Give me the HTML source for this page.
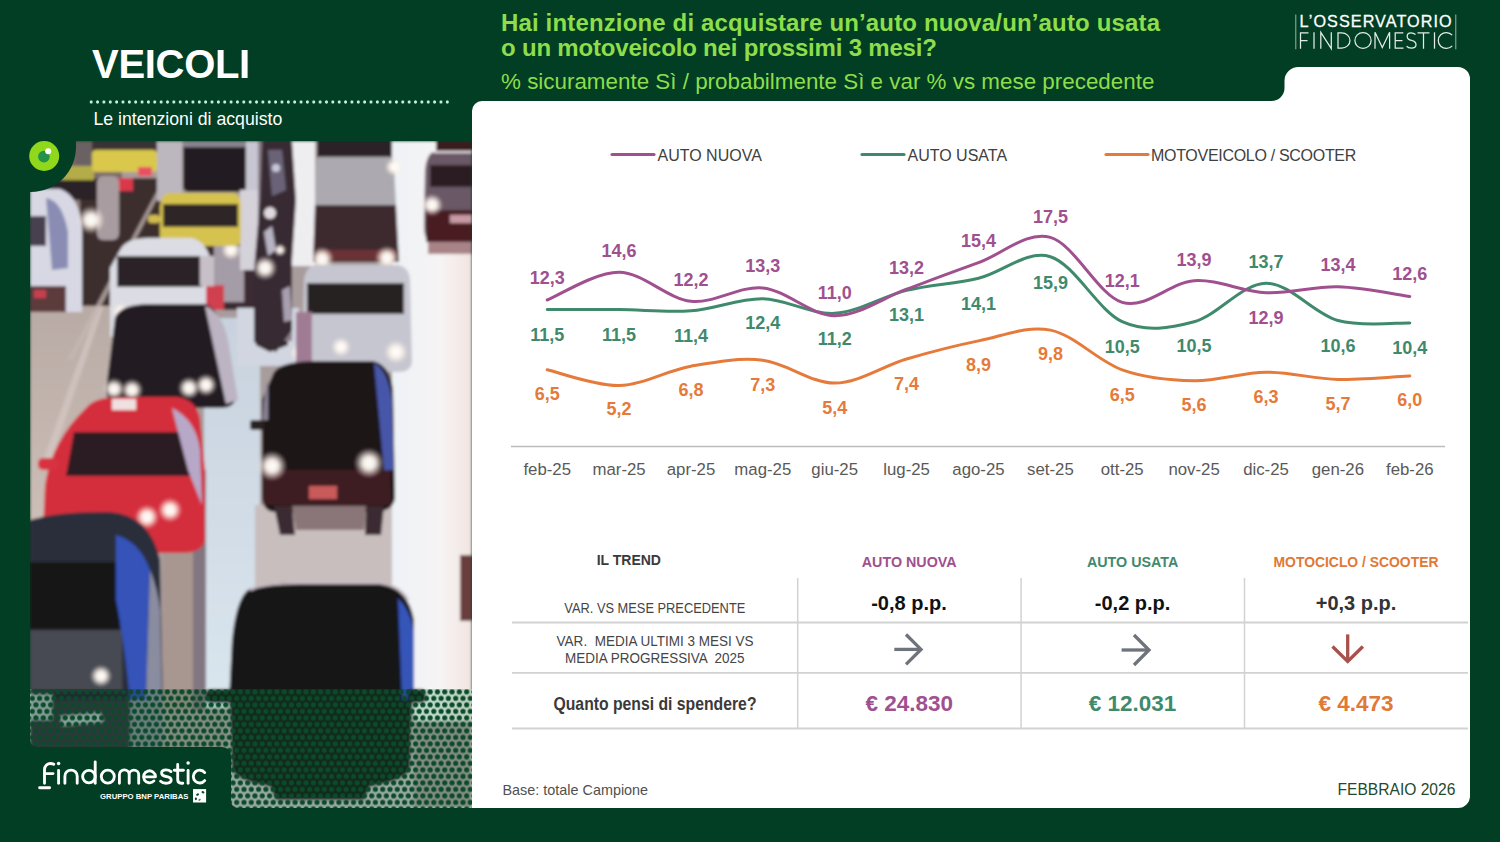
<!DOCTYPE html>
<html><head><meta charset="utf-8">
<style>
html,body{margin:0;padding:0}
body{width:1500px;height:842px;overflow:hidden;background:#013e23;position:relative;font-family:"Liberation Sans",sans-serif}
.abs{position:absolute}
.t{position:absolute;white-space:pre;line-height:1}
</style></head><body>
<!-- white panel -->
<svg class="abs" width="1500" height="842" viewBox="0 0 1500 842" style="left:0;top:0">
 <path d="M472 111 A10 10 0 0 1 482 101 L1271.5 101 A13 13 0 0 0 1284.5 88 L1284.5 81 A14 14 0 0 1 1298.5 67 L1458 67 A12 12 0 0 1 1470 79 L1470 796 A12 12 0 0 1 1458 808 L472 808 Z" fill="#ffffff"/>
</svg>
<svg class="abs" width="1500" height="842" viewBox="0 0 1500 842" style="left:0;top:0">
 <defs>
  <clipPath id="pc"><path d="M76 141 L472 141 L472 808 L239 808 Q231 808 231 800 L231 757 Q231 747 221 747 L38 747 Q30 747 30 739 L30 192 L31 192 A45 45 0 0 0 76 147 Z"/></clipPath>
  <filter id="bl" x="0" y="0" width="1500" height="842" filterUnits="userSpaceOnUse"><feGaussianBlur stdDeviation="1.8"/></filter>
  <radialGradient id="hl"><stop offset="0" stop-color="#ffffff"/><stop offset="0.4" stop-color="#fff8f0" stop-opacity="0.95"/><stop offset="1" stop-color="#ffeee4" stop-opacity="0"/></radialGradient>
  <linearGradient id="roadR" x1="0" y1="0" x2="1" y2="0"><stop offset="0" stop-color="#eef2f6"/><stop offset="0.6" stop-color="#f6f4f4"/><stop offset="1" stop-color="#f2e4e0"/></linearGradient>
  <linearGradient id="roadL" x1="0" y1="0" x2="0" y2="1"><stop offset="0" stop-color="#6a5a58"/><stop offset="0.35" stop-color="#b6a8a2"/><stop offset="1" stop-color="#d0c2bb"/></linearGradient>
  <linearGradient id="roadM" x1="0" y1="0" x2="0" y2="1"><stop offset="0" stop-color="#c8d2de"/><stop offset="1" stop-color="#dae6ee"/></linearGradient>
  <pattern id="dots" x="3.1" y="-0.45" width="7.3" height="13" patternUnits="userSpaceOnUse">
   <circle cx="3.65" cy="3.25" r="2.55" fill="#0b4a2a"/>
   <circle cx="0" cy="9.75" r="2.55" fill="#0b4a2a"/>
   <circle cx="7.3" cy="9.75" r="2.55" fill="#0b4a2a"/>
  </pattern>
 </defs>
 <g clip-path="url(#pc)">
  <g filter="url(#bl)">
   <!-- base -->
   <rect x="30" y="141" width="442" height="667" fill="#a89c9c"/>
   <!-- left lane road -->
   <rect x="30" y="141" width="92" height="420" fill="url(#roadL)"/>
   <path d="M40 470 L100 300 L106 300 L48 470 Z" fill="#d8ccc8" opacity="0.6"/>
   <!-- dark road top-left/center -->
   <rect x="80" y="178" width="86" height="128" fill="#3c2e2e"/>
   <path d="M157 191 L161 191 L73 360 L67 360 Z" fill="#c4b8b4" opacity="0.75"/>
   <rect x="196" y="244" width="58" height="66" fill="#3a2c30"/>
   <rect x="214" y="246" width="30" height="56" fill="#a49ca6"/>
   <!-- mid lane light-blue strip -->
   <rect x="204" y="318" width="56" height="390" fill="url(#roadM)"/>
   <rect x="237" y="308" width="62" height="58" fill="#d2d6e0"/>
   <path d="M254 300 L286 300 L288 345 L270 352 L256 345 Z" fill="#2e2428"/>
   <rect x="191" y="470" width="15" height="240" fill="#827680"/>
   <!-- lower middle road -->
   <rect x="163" y="545" width="30" height="165" fill="#a89690"/>
   <rect x="255" y="505" width="160" height="90" fill="#c8bebe"/>
   <!-- right bright road -->
   <rect x="392" y="141" width="80" height="580" fill="url(#roadR)"/>
   <rect x="287" y="141" width="28" height="125" fill="#eeedf0"/>
   <!-- top-left: car behind left white car -->
   <rect x="76" y="141" width="16" height="28" fill="#6a6262"/>
   <rect x="62" y="166" width="32" height="15" fill="#b4ac4a"/>
   <rect x="34" y="180" width="66" height="20" fill="#2a2428"/>
   <!-- top yellow taxi -->
   <rect x="92" y="141" width="65" height="11" fill="#3a3234"/>
   <rect x="92" y="150" width="65" height="22" rx="4" fill="#d9c84c"/>
   <rect x="113" y="178" width="20" height="13" fill="#d83848"/>
   <rect x="138" y="167" width="14" height="9" fill="#e85060"/>
   <!-- silver car right of taxi -->
   <rect x="157" y="141" width="25" height="60" fill="#bcb6be"/>
   <!-- rider -->
   <rect x="97" y="176" width="22" height="64" rx="6" fill="#a89ca0"/>
   <!-- dark car top -->
   <path d="M183 141 L246 141 L246 186 Q246 192 238 192 L190 192 Q183 192 183 186 Z" fill="#241e24"/>
   <rect x="183" y="141" width="63" height="6" fill="#8a8490"/>
   <!-- white rider / riders column -->
   <rect x="246" y="141" width="17" height="50" fill="#c8c6d2"/>
   <rect x="240" y="190" width="20" height="80" fill="#d6d2da"/>
   <rect x="258" y="141" width="34" height="200" fill="#8a7e88"/>
   <path d="M262 141 L292 141 L296 200 L292 260 L292 330 L276 352 L254 342 L254 270 L260 200 Z" fill="#372c33"/>
   <path d="M264 232 L272 226 L276 250 L268 256 Z" fill="#b8b4c4"/>
   <path d="M282 290 L290 286 L292 320 L284 322 Z" fill="#a8a0b0"/>
   <path d="M268 150 L282 150 L286 190 L272 196 Z" fill="#6a6478"/>
   <circle cx="270" cy="213" r="6" fill="#e0dade"/>
   <circle cx="276" cy="168" r="4" fill="#c8c8d8"/>
   <circle cx="231" cy="250" r="10" fill="url(#hl)"/>
   <circle cx="265" cy="268" r="12" fill="url(#hl)"/>
   <circle cx="280" cy="250" r="6" fill="url(#hl)"/>
   <!-- left white car -->
   <path d="M30 189 L60 189 Q80 196 82 230 L82 312 L30 312 Z" fill="#d8d8e4"/>
   <rect x="30" y="216" width="16" height="30" fill="#4a4050"/>
   <path d="M46 198 Q62 200 68 232 L68 268 L52 270 Z" fill="#8a8cb4"/>
   <path d="M30 286 L66 286 L66 312 L30 312 Z" fill="#5c3a3e"/>
   <rect x="34" y="290" width="12" height="8" fill="#c84050"/>
   <!-- headlight -->
   <circle cx="91" cy="220" r="14" fill="url(#hl)"/>
   <!-- yellow taxi middle -->
   <path d="M168 193 L234 193 Q241 195 241 206 L241 240 Q241 246 233 246 L166 246 Q160 246 160 238 L160 206 Q161 195 168 193 Z" fill="#d6c250"/>
   <rect x="163" y="204" width="75" height="23" fill="#2e2628"/>
   <rect x="148" y="215" width="12" height="8" rx="3" fill="#d0bc50"/>
   <!-- white car middle -->
   <path d="M120 250 Q126 238 148 238 L192 238 Q206 242 210 258 L212 337 L110 337 L110 268 Z" fill="#dcdce4"/>
   <rect x="117" y="256" width="86" height="31" fill="#2a2228"/>
   <circle cx="121" cy="312" r="9" fill="url(#hl)"/>
   <!-- red rider -->
   <rect x="206" y="285" width="18" height="25" fill="#d04050"/>
   <rect x="200" y="256" width="14" height="30" fill="#c8c0c8"/>
   <!-- van -->
   <rect x="317" y="141" width="75" height="16" fill="#2a2226"/>
   <path d="M320 157 L389 157 Q393 158 394 165 L396 205 L315 205 L316 165 Q317 158 320 157 Z" fill="#acaab0"/>
   <path d="M315 205 L396 205 L399 262 L313 262 Z" fill="#3c2a2e"/>
   <rect x="318" y="250" width="78" height="10" fill="#6a3034"/>
   <circle cx="394" cy="167" r="9" fill="url(#hl)"/>
   <circle cx="322" cy="259" r="12" fill="url(#hl)"/>
   <circle cx="387" cy="258" r="12" fill="url(#hl)"/>
   <!-- right car -->
   <rect x="436" y="141" width="36" height="11" fill="#3a1a1e"/>
   <path d="M434 152 L472 152 L472 242 L428 242 Q424 236 424 226 L425 170 Q427 153 434 152 Z" fill="#6a5866"/>
   <path d="M434 152 L472 152" stroke="#e8e0e4" stroke-width="2"/>
   <rect x="430" y="165" width="42" height="22" fill="#2a1c24"/>
   <rect x="426" y="210" width="46" height="32" fill="#4a1e24"/>
   <rect x="450" y="215" width="22" height="8" fill="#c89aa4"/>
   <circle cx="432" cy="205" r="11" fill="url(#hl)"/>
   <rect x="428" y="242" width="44" height="12" fill="#a88488"/>
   <!-- silver car -->
   <path d="M316 265 L398 265 Q409 267 410 280 L412 362 Q411 372 398 372 L312 372 Q302 370 302 360 L304 280 Q306 266 316 265 Z" fill="#c6c6d0"/>
   <rect x="307" y="283" width="97" height="31" fill="#262024"/>
   <circle cx="300" cy="353" r="10" fill="url(#hl)"/>
   <circle cx="341" cy="347" r="10" fill="url(#hl)"/>
   <circle cx="396" cy="352" r="12" fill="url(#hl)"/>
   <rect x="296" y="312" width="16" height="52" fill="#a07c94"/>
   <!-- dark car (in front of white car) -->
   <path d="M115 318 Q120 304 150 304 L205 304 Q218 308 222 330 L236 395 Q236 408 220 408 L118 408 Q106 404 106 390 Z" fill="#211a21"/>
   <path d="M205 306 Q222 312 228 340 L238 400 L226 404 Z" fill="#bcb4c2"/>
   <circle cx="114" cy="389" r="11" fill="url(#hl)"/>
   <circle cx="132" cy="390" r="11" fill="url(#hl)"/>
   <circle cx="189" cy="388" r="11" fill="url(#hl)"/>
   <circle cx="206" cy="385" r="11" fill="url(#hl)"/>
   <!-- red taxi -->
   <path d="M86 408 Q94 397 120 397 L178 397 Q196 400 200 418 L205 470 L205 540 Q203 553 182 553 L60 553 Q43 553 43 530 L45 485 Q52 440 86 408 Z" fill="#d42e3c"/>
   <path d="M74 432 L186 432 L190 476 L66 476 Z" fill="#2c1c22"/>
   <rect x="112" y="399" width="24" height="11" fill="#f0e0e0"/>
   <rect x="38" y="458" width="20" height="12" rx="5" fill="#d83040"/>
   <path d="M172 408 Q196 420 200 450 L202 505 L188 470 Z" fill="#b8a8c8"/>
   <circle cx="147" cy="517" r="12" fill="url(#hl)"/>
   <circle cx="170" cy="510" r="12" fill="url(#hl)"/>
   <!-- big dark car -->
   <path d="M274 372 Q282 361 318 361 L372 361 Q390 364 393 390 L395 498 Q393 512 373 512 L276 512 Q262 512 262 495 L262 400 Z" fill="#1e1418"/>
   <rect x="250" y="420" width="14" height="10" rx="3" fill="#2a2024"/>
   <path d="M374 363 Q388 370 392 400 L394 470 L384 470 Z" fill="#4656a8"/>
   <path d="M268 380 Q264 390 263 420 L268 420 Z" fill="#8a8498"/>
   <path d="M264 470 L390 470 L392 505 L264 505 Z" fill="#3c1a22"/>
   <path d="M274 506 L292 506 L295 535 L280 535 Z" fill="#3a2c30"/>
   <path d="M366 506 L384 506 L381 535 L365 535 Z" fill="#3a2c30"/>
   <path d="M292 506 L366 506 L364 530 L296 530 Z" fill="#8a7678"/>
   <rect x="309" y="486" width="28" height="13" fill="#c85a5a"/>
   <circle cx="272" cy="466" r="15" fill="url(#hl)"/>
   <circle cx="369" cy="463" r="15" fill="url(#hl)"/>
   <!-- bottom-left dark car -->
   <path d="M30 520 Q60 511 110 512 Q150 515 160 560 L163 710 L30 710 Z" fill="#2a2e3a"/>
   <rect x="30" y="562" width="90" height="68" fill="#121218"/>
   <rect x="30" y="630" width="92" height="60" fill="#464a52"/>
   <path d="M116 535 Q140 542 150 570 L146 700 L130 700 Q124 640 116 600 Z" fill="#3452b8"/>
   <path d="M150 570 Q158 590 160 610 L162 700 L146 700 Z" fill="#8a8ca0"/>
   <circle cx="101" cy="676" r="11" fill="url(#hl)"/>
   <!-- bottom dark car -->
   <path d="M248 590 Q262 582 300 582 L380 582 Q408 588 414 620 L414 720 L228 720 L232 640 Q236 600 248 590 Z" fill="#181318"/>
   <path d="M398 598 Q410 610 414 630 L414 700 L402 700 Z" fill="#3454b8"/>
   <path d="M250 590 Q262 583 300 583 L380 583 Q400 586 408 600" fill="none" stroke="#c8bcc4" stroke-width="2.5"/>
   <!-- person right edge -->
   <rect x="460" y="555" width="12" height="66" fill="#6a3c3c"/>
   <!-- lower halftone underlying continuation -->
   <rect x="228" y="700" width="186" height="110" fill="#c4bcc0"/>
   <path d="M230 700 L412 700 L410 770 Q400 782 370 786 L364 800 L276 800 L270 786 Q240 782 232 770 Z" fill="#151015"/>
   <rect x="206" y="689" width="28" height="14" rx="5" fill="#151015"/>
   <rect x="408" y="689" width="18" height="14" rx="5" fill="#151015"/>
   <rect x="30" y="700" width="133" height="50" fill="#3a3e46"/>
   <rect x="30" y="694" width="22" height="26" fill="#a8acb4"/>
   <path d="M60 716 L100 712 L104 722 L62 726 Z" fill="#b0b4bc"/>
   <rect x="130" y="700" width="33" height="50" fill="#8a8c98"/>

  </g>
  <!-- halftone band -->
  <rect x="30" y="689" width="442" height="120" fill="#c4e4d2" style="mix-blend-mode:multiply"/>
  <rect x="30" y="689" width="442" height="120" fill="#0e2a1c" style="mix-blend-mode:lighten"/>
  <rect x="30" y="689" width="442" height="120" fill="url(#dots)"/>
 </g>
 <!-- logo circle -->
 <circle cx="44.2" cy="156" r="15" fill="#8fd81c"/>
 <circle cx="43.9" cy="156.6" r="5.8" fill="#23924a"/>
 <circle cx="48.2" cy="151.2" r="3" fill="#ffffff"/>
 <!-- findomestic logo -->
 <g fill="none" stroke="#ffffff" stroke-width="2.85" stroke-linecap="round" stroke-linejoin="round">
  <path d="M44.5 783.2 V769.5 A6 6 0 0 1 50.5 763.5 Q52.5 763.5 53.8 764.3"/>
  <path d="M44.5 773.6 H53"/>
  <path d="M39.6 787.7 H49.6"/>
  <path d="M58.6 770.5 V783.2"/>
  <path d="M64.9 783.2 V776.2 A6.15 6.15 0 0 1 77.2 776.2 V783.2"/>
  <circle cx="88.9" cy="776.6" r="6.3"/>
  <path d="M95.2 761.8 V783.2"/>
  <circle cx="107.8" cy="776.6" r="6.5"/>
  <path d="M119.4 783.2 V774.8 A4.9 4.9 0 0 1 129.2 774.8 V783.2 M129.2 774.8 A4.75 4.75 0 0 1 138.7 774.8 V783.2"/>
  <path d="M143.6 776.8 H155.5 A6 6 0 1 0 153.9 780.9"/>
  <path d="M171 771.6 Q169 769.9 166 769.9 Q161.6 769.9 161.6 773 Q161.6 775.8 166 776.5 Q171.2 777.3 171.2 780 Q171.2 783.2 166 783.2 Q162.6 783.2 160.6 781.3"/>
  <path d="M177.7 764.4 V779.5 Q177.7 783.2 181.3 783.2 H182.8"/>
  <path d="M174.3 770.2 H183.4"/>
  <path d="M188.1 770.5 V783.2"/>
  <path d="M204.7 772.6 A6.4 6.4 0 1 0 204.7 780.6"/>
 </g>
 <circle cx="58.6" cy="763.4" r="1.75" fill="#ffffff"/>
 <circle cx="188.1" cy="762.9" r="1.75" fill="#ffffff"/>
 <text x="100" y="799.3" font-family="Liberation Sans" font-weight="bold" font-size="7.75" fill="#ffffff">GRUPPO BNP PARIBAS</text>
 <rect x="193" y="789.1" width="13.1" height="13.4" fill="#ffffff"/>
 <g fill="#0b4a2c"><ellipse cx="203" cy="792.3" rx="1.5" ry="1.1" transform="rotate(20 203 792.3)"/><ellipse cx="197.6" cy="794.6" rx="1.5" ry="1.1" transform="rotate(-25 197.6 794.6)"/><ellipse cx="195.9" cy="798.8" rx="1.1" ry="1.4"/><ellipse cx="199.6" cy="799.8" rx="1.3" ry="0.9" opacity="0.7" transform="rotate(-35 199.6 799.8)"/></g>
</svg>

<!-- header text -->
<div class="t" style="left:501px;top:10.6px;font-size:24px;font-weight:bold;color:#8edd4a;letter-spacing:0.15px">Hai intenzione di acquistare un’auto nuova/un’auto usata</div>
<div class="t" style="left:501px;top:35.6px;font-size:24px;font-weight:bold;color:#8edd4a;letter-spacing:-0.19px">o un motoveicolo nei prossimi 3 mesi?</div>
<div class="t" style="left:501px;top:71.2px;font-size:22.4px;color:#8edd4a">% sicuramente Sì / probabilmente Sì e var % vs mese precedente</div>
<div class="t" style="left:92px;top:43.6px;font-size:40px;font-weight:bold;color:#ffffff;letter-spacing:-0.3px">VEICOLI</div>
<div class="abs" style="left:88.2px;top:99.9px;width:362.5px;height:4px;background-image:radial-gradient(circle,#c4f0d6 1.3px,transparent 1.9px);background-size:6.36px 4px;background-position:0 0"></div>
<div class="t" style="left:93.5px;top:110.5px;font-size:17.7px;color:#ffffff">Le intenzioni di acquisto</div>
<!-- osservatorio logo -->
<svg class="abs" width="1500" height="842" viewBox="0 0 1500 842" style="left:0;top:0">
 <g stroke="#9db4a6" stroke-width="1"><line x1="1295.8" y1="14.5" x2="1295.8" y2="49.3"/><line x1="1455.8" y1="14.5" x2="1455.8" y2="49.3"/></g>
 <text x="1299.6" y="26.8" font-family="Liberation Sans" font-size="16.2" fill="#ffffff" stroke="#ffffff" stroke-width="0.3" textLength="152" lengthAdjust="spacing">L’OSSERVATORIO</text>
 <g fill="none" stroke="#e4ebe7" stroke-width="1.25" stroke-linecap="butt" stroke-linejoin="miter">
  <path d="M1300.5 48.7 V32.9 H1308.5 M1300.5 40.6 H1307.5"/>
  <path d="M1314 32.3 V48.7"/>
  <path d="M1320.8 48.7 V32.3 L1331.3 48.7 V32.3"/>
  <path d="M1338 32.9 H1341.6 A8.4 7.6 0 0 1 1341.6 48.1 H1338 Z"/>
  <ellipse cx="1363" cy="40.5" rx="8.1" ry="7.9"/>
  <path d="M1375 48.7 V32.3 L1382.3 47.5 L1389.6 32.3 V48.7"/>
  <path d="M1403.3 32.9 H1395.2 V48.1 H1403.5 M1395.2 40.5 H1402.5"/>
  <path d="M1415.5 34.6 Q1413.5 32.9 1411 32.9 Q1407.2 32.9 1407.2 36.4 Q1407.2 39.4 1411.5 40.4 Q1416 41.5 1416 44.7 Q1416 48.1 1411.3 48.1 Q1408.3 48.1 1406.6 46.3"/>
  <path d="M1417.5 32.9 H1429.5 M1423.5 32.9 V48.7"/>
  <path d="M1434.5 32.3 V48.7"/>
  <path d="M1452.2 35.2 A8 7.9 0 1 0 1452.2 45.8"/>
 </g>
</svg>

<svg class="abs" width="1500" height="842" viewBox="0 0 1500 842" style="left:0;top:0">
 <g fill="none" stroke-width="3" stroke-linecap="round">
  <path d="M547.2 369.8 C559.2 372.4 595.1 386.1 619.1 385.5 C643.0 384.9 667.0 370.4 691.0 366.2 C714.9 362.0 738.9 357.4 762.8 360.2 C786.8 363.0 810.8 383.3 834.7 383.1 C858.7 382.9 882.6 366.0 906.6 359.0 C930.6 352.0 954.5 345.8 978.5 340.9 C1002.4 336.1 1026.4 325.3 1050.4 330.1 C1074.3 334.9 1098.3 361.4 1122.2 369.8 C1146.2 378.3 1170.2 380.3 1194.1 380.7 C1218.1 381.1 1242.0 372.4 1266.0 372.2 C1290.0 372.0 1313.9 378.9 1337.9 379.5 C1361.8 380.1 1397.8 376.5 1409.8 375.9" stroke="#e57a3a"/>
  <path d="M547.2 309.6 C559.2 309.6 595.1 309.4 619.1 309.6 C643.0 309.8 667.0 312.7 691.0 310.8 C714.9 309.0 738.9 298.4 762.8 298.8 C786.8 299.2 810.8 314.7 834.7 313.3 C858.7 311.8 882.6 296.2 906.6 290.4 C930.6 284.6 954.5 284.0 978.5 278.3 C1002.4 272.7 1026.4 249.4 1050.4 256.7 C1074.3 263.9 1098.3 310.8 1122.2 321.7 C1146.2 332.5 1170.2 328.1 1194.1 321.7 C1218.1 315.3 1242.0 283.4 1266.0 283.2 C1290.0 283.0 1313.9 313.9 1337.9 320.5 C1361.8 327.1 1397.8 322.5 1409.8 322.9" stroke="#3f8a6c"/>
  <path d="M547.2 300.0 C559.2 295.4 595.1 272.1 619.1 272.3 C643.0 272.5 667.0 298.6 691.0 301.2 C714.9 303.8 738.9 285.6 762.8 288.0 C786.8 290.4 810.8 315.5 834.7 315.7 C858.7 315.9 882.6 298.0 906.6 289.2 C930.6 280.3 954.5 271.3 978.5 262.7 C1002.4 254.1 1026.4 230.8 1050.4 237.4 C1074.3 244.0 1098.3 295.2 1122.2 302.4 C1146.2 309.6 1170.2 282.3 1194.1 280.7 C1218.1 279.1 1242.0 291.8 1266.0 292.8 C1290.0 293.8 1313.9 286.2 1337.9 286.8 C1361.8 287.4 1397.8 294.8 1409.8 296.4" stroke="#a0508f"/>
 </g>
 <line x1="511" y1="446.5" x2="1445" y2="446.5" stroke="#bcbcbc" stroke-width="1.5"/>
 <g font-family="Liberation Sans" font-weight="bold" font-size="18" text-anchor="middle">
 <text x="547.2" y="284.4" fill="#a0508f">12,3</text>
<text x="619.1" y="257.4" fill="#a0508f">14,6</text>
<text x="691.0" y="286.4" fill="#a0508f">12,2</text>
<text x="762.8" y="272.4" fill="#a0508f">13,3</text>
<text x="834.7" y="299.4" fill="#a0508f">11,0</text>
<text x="906.6" y="274.4" fill="#a0508f">13,2</text>
<text x="978.5" y="247.4" fill="#a0508f">15,4</text>
<text x="1050.4" y="223.4" fill="#a0508f">17,5</text>
<text x="1122.2" y="287.4" fill="#a0508f">12,1</text>
<text x="1194.1" y="266.4" fill="#a0508f">13,9</text>
<text x="1266.0" y="324.4" fill="#a0508f">12,9</text>
<text x="1337.9" y="271.4" fill="#a0508f">13,4</text>
<text x="1409.8" y="280.4" fill="#a0508f">12,6</text>
 <text x="547.2" y="341.4" fill="#3f8a6c">11,5</text>
<text x="619.1" y="341.4" fill="#3f8a6c">11,5</text>
<text x="691.0" y="342.4" fill="#3f8a6c">11,4</text>
<text x="762.8" y="329.4" fill="#3f8a6c">12,4</text>
<text x="834.7" y="345.1" fill="#3f8a6c">11,2</text>
<text x="906.6" y="321.4" fill="#3f8a6c">13,1</text>
<text x="978.5" y="310.4" fill="#3f8a6c">14,1</text>
<text x="1050.4" y="288.9" fill="#3f8a6c">15,9</text>
<text x="1122.2" y="352.8" fill="#3f8a6c">10,5</text>
<text x="1194.1" y="352.4" fill="#3f8a6c">10,5</text>
<text x="1266.0" y="267.9" fill="#3f8a6c">13,7</text>
<text x="1337.9" y="352.4" fill="#3f8a6c">10,6</text>
<text x="1409.8" y="354.4" fill="#3f8a6c">10,4</text>
 <text x="547.2" y="400.4" fill="#e57a3a">6,5</text>
<text x="619.1" y="415.4" fill="#e57a3a">5,2</text>
<text x="691.0" y="396.4" fill="#e57a3a">6,8</text>
<text x="762.8" y="391.4" fill="#e57a3a">7,3</text>
<text x="834.7" y="414.1" fill="#e57a3a">5,4</text>
<text x="906.6" y="389.7" fill="#e57a3a">7,4</text>
<text x="978.5" y="371.1" fill="#e57a3a">8,9</text>
<text x="1050.4" y="360.4" fill="#e57a3a">9,8</text>
<text x="1122.2" y="401.1" fill="#e57a3a">6,5</text>
<text x="1194.1" y="411.1" fill="#e57a3a">5,6</text>
<text x="1266.0" y="403.3" fill="#e57a3a">6,3</text>
<text x="1337.9" y="410.4" fill="#e57a3a">5,7</text>
<text x="1409.8" y="405.8" fill="#e57a3a">6,0</text>
 </g>
 <g font-family="Liberation Sans" font-size="16.8" fill="#595959" text-anchor="middle">
 <text x="547.2" y="474.8">feb-25</text><text x="619.1" y="474.8">mar-25</text><text x="691.0" y="474.8">apr-25</text><text x="762.8" y="474.8">mag-25</text><text x="834.7" y="474.8">giu-25</text><text x="906.6" y="474.8">lug-25</text><text x="978.5" y="474.8">ago-25</text><text x="1050.4" y="474.8">set-25</text><text x="1122.2" y="474.8">ott-25</text><text x="1194.1" y="474.8">nov-25</text><text x="1266.0" y="474.8">dic-25</text><text x="1337.9" y="474.8">gen-26</text><text x="1409.8" y="474.8">feb-26</text>
 </g>
 <g stroke-width="3.2" stroke-linecap="round">
  <line x1="612" y1="154.5" x2="654" y2="154.5" stroke="#a0508f"/>
  <line x1="862" y1="154.5" x2="904" y2="154.5" stroke="#3f8a6c"/>
  <line x1="1106" y1="154.5" x2="1148" y2="154.5" stroke="#e57a3a"/>
 </g>
 <g font-family="Liberation Sans" font-size="16" fill="#404040">
  <text x="657.5" y="160.5">AUTO NUOVA</text>
  <text x="907.5" y="160.5">AUTO USATA</text>
  <text x="1151" y="160.5" letter-spacing="-0.3">MOTOVEICOLO / SCOOTER</text>
 </g>
</svg>


<svg class="abs" width="1500" height="842" viewBox="0 0 1500 842" style="left:0;top:0">
 <g stroke="#d2d2d2" stroke-width="1.8">
  <line x1="512" y1="622.5" x2="1468" y2="622.5"/>
  <line x1="512" y1="672.8" x2="1468" y2="672.8"/>
  <line x1="512" y1="728.5" x2="1468" y2="728.5"/>
 </g>
 <g stroke="#d2d2d2" stroke-width="1.5">
  <line x1="797.7" y1="578" x2="797.7" y2="728"/>
  <line x1="1021.1" y1="578" x2="1021.1" y2="728"/>
  <line x1="1244.5" y1="578" x2="1244.5" y2="728"/>
 </g>
 <g font-family="Liberation Sans" font-weight="bold" text-anchor="middle">
  <text x="628.8" y="565" font-size="14" fill="#3a3a3a">IL TREND</text>
  <text x="909.2" y="567.4" font-size="14.3" fill="#a0508f">AUTO NUOVA</text>
  <text x="1132.6" y="567.4" font-size="14.3" fill="#3f8a6c">AUTO USATA</text>
  <text x="1356" y="567.4" font-size="13.9" fill="#e07838">MOTOCICLO / SCOOTER</text>
  <text x="909" y="610" font-size="20" fill="#111">-0,8 p.p.</text>
  <text x="1132.6" y="610" font-size="20" fill="#111">-0,2 p.p.</text>
  <text x="1356" y="610" font-size="20" fill="#333">+0,3 p.p.</text>
  <text x="655" y="709.6" font-size="18.6" fill="#3a3a3a" textLength="203" lengthAdjust="spacingAndGlyphs">Quanto pensi di spendere?</text>
  <text x="909.2" y="711" font-size="22.5" fill="#a0508f">€ 24.830</text>
  <text x="1132.6" y="711" font-size="22.5" fill="#3f8a6c">€ 12.031</text>
  <text x="1356" y="711" font-size="22.5" fill="#e07838">€ 4.473</text>
 </g>
 <g font-family="Liberation Sans" font-size="14.1" fill="#454545" lengthAdjust="spacingAndGlyphs">
  <text x="564.3" y="612.9" textLength="181" lengthAdjust="spacingAndGlyphs">VAR. VS MESE PRECEDENTE</text>
  <text x="556.6" y="645.7" textLength="197" lengthAdjust="spacingAndGlyphs" xml:space="preserve">VAR.  MEDIA ULTIMI 3 MESI VS</text>
  <text x="565" y="662.9" textLength="179.6" lengthAdjust="spacingAndGlyphs" xml:space="preserve">MEDIA PROGRESSIVA  2025</text>
 </g>
 <g fill="none" stroke-width="3.3" stroke-linecap="butt" stroke-linejoin="miter">
  <g stroke="#6f737c">
   <path d="M894.3 649.4 H920"/><path d="M906 634.5 L921 649.4 L906 664.3"/>
   <path d="M1121.6 650 H1148.5"/><path d="M1134 635 L1149 650 L1134 665"/>
  </g>
  <g stroke="#a8504c">
   <path d="M1347.7 634.4 V660"/><path d="M1332.5 646.5 L1347.7 661.5 L1362.9 646.5"/>
  </g>
 </g>
</svg>

<div class="t" style="left:502.5px;top:782.6px;font-size:14.4px;color:#505050">Base: totale Campione</div>
<div class="t" style="left:1337.5px;top:781.5px;font-size:15.6px;color:#1f4a2e">FEBBRAIO 2026</div>
</body></html>
